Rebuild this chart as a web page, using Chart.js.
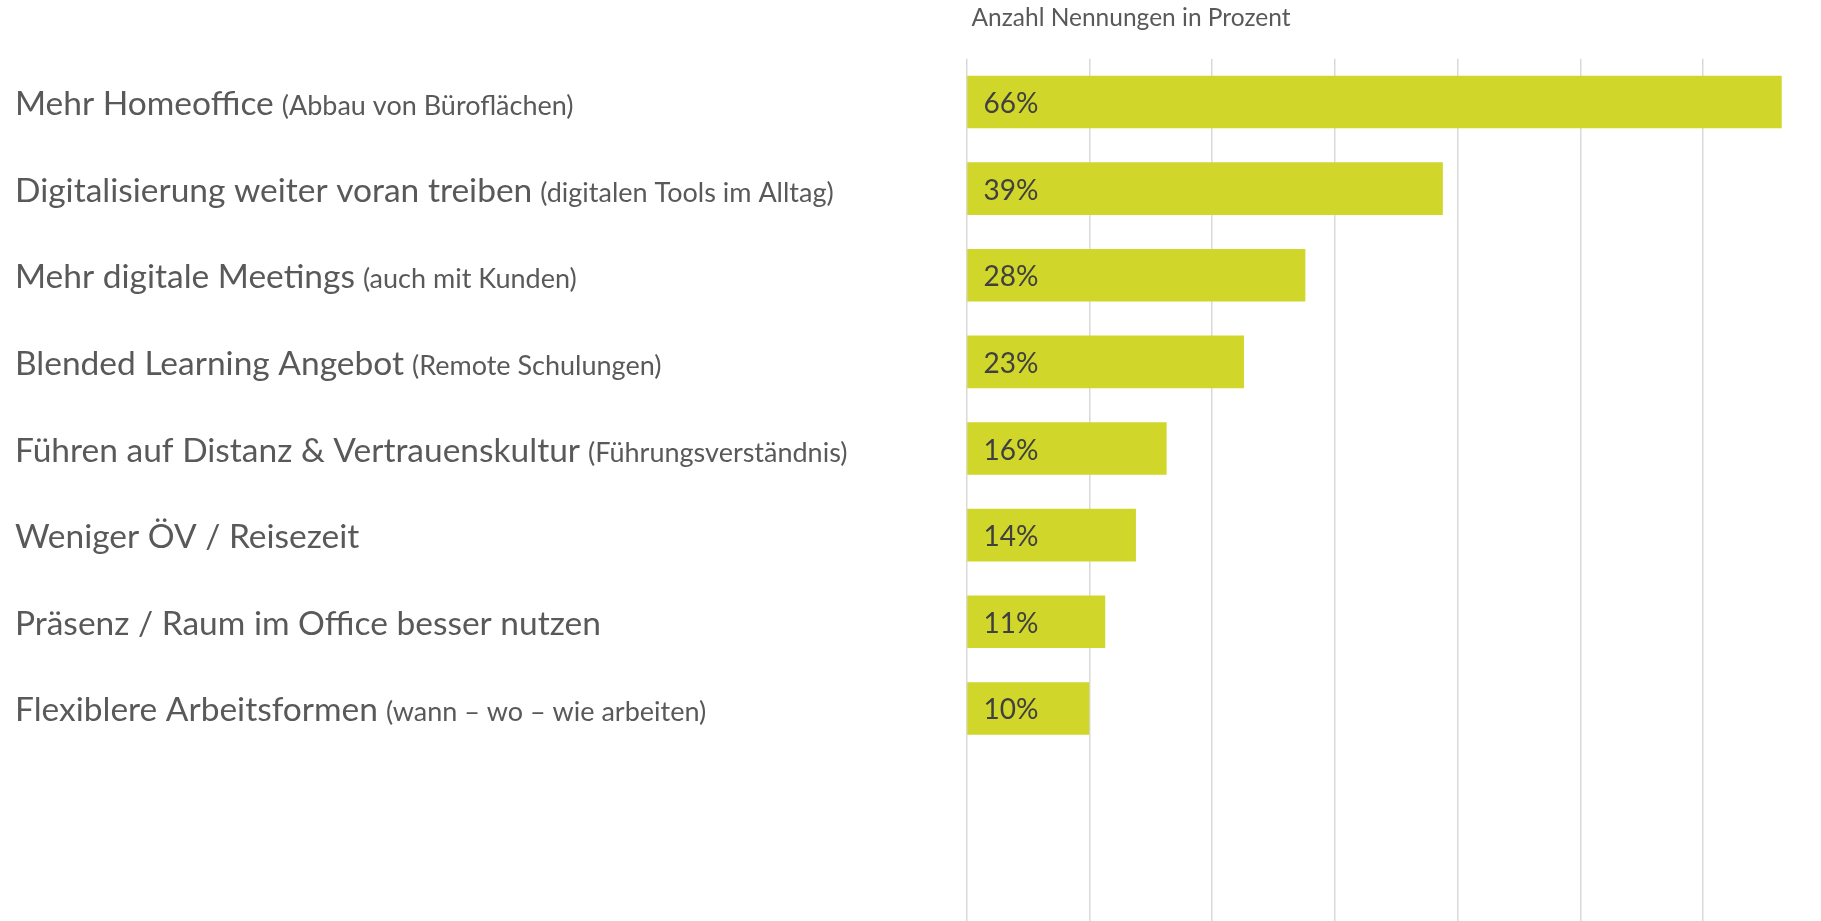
<!DOCTYPE html>
<html>
<head>
<meta charset="utf-8">
<script src="https://cdn.jsdelivr.net/npm/chart.js@4"></script>
<style>
  html, body { margin: 0; padding: 0; background: #fff; overflow: hidden; }
  #wrap { width: 1821px; height: 925px; }
</style>
</head>
<body>
<div id="wrap"><canvas id="chart"></canvas></div>
<script>
// category names, with the small note in brackets kept apart
const mainLabels = [
  'Mehr Homeoffice',
  'Digitalisierung weiter voran treiben',
  'Mehr digitale Meetings',
  'Blended Learning Angebot',
  'Führen auf Distanz & Vertrauenskultur',
  'Weniger ÖV / Reisezeit',
  'Präsenz / Raum im Office besser nutzen',
  'Flexiblere Arbeitsformen'
];
const noteLabels = [
  '(Abbau von Büroflächen)',
  '(digitalen Tools im Alltag)',
  '(auch mit Kunden)',
  '(Remote Schulungen)',
  '(Führungsverständnis)',
  '',
  '',
  '(wann – wo – wie arbeiten)'
];
// share of mentions in percent
const shares = [66.4, 38.8, 27.6, 22.6, 16.3, 13.8, 11.3, 10.0];
const axisTitle = 'Anzahl Nennungen in Prozent';
const axisMax = 69.6;
const axisStep = 10;
// the original leaves two empty rows below the last bar
const blankRows = ['', ''];

const labelColor = '#595959';
const valueColor = '#404040';
const barColor = '#d1d62a';
const gridColor = '#d9d9d9';
const fontFamily = 'Lato, "Open Sans", sans-serif';

const labelsPlugin = {
  id: 'rowLabels',
  afterDatasetsDraw(chart) {
    const ctx = chart.ctx;
    const y = chart.scales.y;
    const x = chart.scales.x;
    ctx.save();
    ctx.textAlign = 'left';

    // axis title on top
    ctx.fillStyle = labelColor;
    ctx.font = '24.5px ' + fontFamily;
    ctx.textBaseline = 'middle';
    ctx.fillText(axisTitle, x.getPixelForValue(0) + 5, 18);
    ctx.textBaseline = 'alphabetic';

    mainLabels.forEach((name, i) => {
      const cy = y.getPixelForValue(i);
      ctx.fillStyle = labelColor;
      ctx.font = '33.5px ' + fontFamily;
      ctx.fillText(name, 15, cy + 13);
      if (noteLabels[i]) {
        const w = ctx.measureText(name).width;
        ctx.font = '27px ' + fontFamily;
        ctx.fillText(noteLabels[i], 15 + w + 8, cy + 13);
      }
      // value inside the bar
      ctx.fillStyle = valueColor;
      ctx.font = '28px ' + fontFamily;
      ctx.fillText(Math.round(shares[i]) + '%', x.getPixelForValue(0) + 17, cy + 11);
    });
    ctx.restore();
  }
};

new Chart(document.getElementById('chart'), {
  type: 'bar',
  data: {
    labels: mainLabels.concat(blankRows),
    datasets: [{
      data: shares,
      backgroundColor: barColor,
      borderWidth: 0,
      categoryPercentage: 1,
      barPercentage: 0.607
    }]
  },
  options: {
    indexAxis: 'y',
    responsive: true,
    maintainAspectRatio: false,
    animation: false,
    layout: { padding: { left: 966.5, top: 58.7, right: 0, bottom: 0 } },
    plugins: {
      legend: { display: false },
      tooltip: { enabled: false }
    },
    scales: {
      x: {
        min: 0,
        max: axisMax,
        ticks: { display: false, stepSize: axisStep, includeBounds: false },
        grid: {
          color: ctx => (ctx.tick && ctx.tick.value % axisStep === 0) ? gridColor : 'rgba(0,0,0,0)',
          lineWidth: 1.5,
          drawTicks: false
        },
        border: { display: false }
      },
      y: {
        display: false
      }
    }
  },
  plugins: [labelsPlugin]
});
</script>
</body>
</html>
